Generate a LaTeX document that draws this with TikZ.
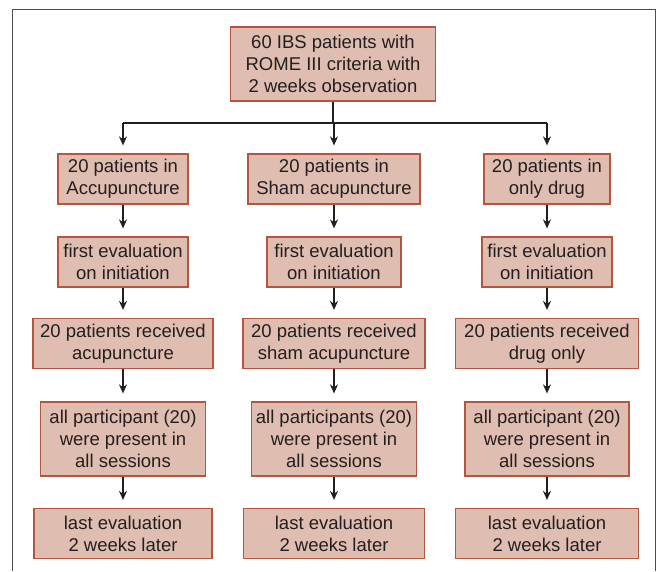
\documentclass[tikz,border=0pt]{standalone}
\usepackage{fontspec}
\setmainfont{Liberation Sans}
\usetikzlibrary{arrows.meta}

\definecolor{boxfill}{HTML}{DFBDB0}
\definecolor{boxline}{HTML}{B4563F}
\definecolor{ink}{HTML}{231F20}

\tikzset{
  stage/.style={draw=boxline, fill=boxfill, line width=1.2pt, align=center,
    inner xsep=4pt, inner ysep=4pt, text=ink, minimum height=50pt,
    font=\fontsize{18.5}{22}\selectfont},
  tall/.style={minimum height=74pt},
  wide/.style={minimum width=#1pt},
  link/.style={line width=1.6pt, draw=ink},
  flow/.style={link, -{Stealth[length=9pt,width=8pt]}, shorten >=8pt}
}

\begin{document}
\begin{tikzpicture}[x=1pt,y=-1pt]
  \useasboundingbox (0,0) rectangle (661,571);

  % Frame
  \draw[ink!80, line width=1pt] (12,571) -- (12,9) -- (655,9) -- (655,571);

  % Start
  \node[stage, tall, wide=205] (top) at (333,64) {60 IBS patients with\\ROME III criteria with\\2 weeks observation};

  % Accupuncture group
  \node[stage, wide=130] (a1) at (123,179) {20 patients in\\Accupuncture};
  \node[stage, wide=130] (a2) at (123,262) {first evaluation\\on initiation};
  \node[stage, wide=180] (a3) at (123,343.5) {20 patients received\\acupuncture};
  \node[stage, tall, wide=165] (a4) at (123,439) {all participant (20)\\were present in\\all sessions};
  \node[stage, wide=178] (a5) at (123,533.5) {last evaluation\\2 weeks later};

  % Sham group
  \node[stage, wide=172] (b1) at (334,179) {20 patients in\\Sham acupuncture};
  \node[stage, wide=134] (b2) at (334,262) {first evaluation\\on initiation};
  \node[stage, wide=182] (b3) at (334,343.5) {20 patients received\\sham acupuncture};
  \node[stage, tall, wide=165] (b4) at (334,439) {all participants (20)\\were present in\\all sessions};
  \node[stage, wide=181] (b5) at (334,533.5) {last evaluation\\2 weeks later};

  % Drug group
  \node[stage, wide=126] (c1) at (547,179) {20 patients in\\only drug};
  \node[stage, wide=130] (c2) at (547,262) {first evaluation\\on initiation};
  \node[stage, wide=183] (c3) at (547,343.5) {20 patients received\\drug only};
  \node[stage, tall, wide=164] (c4) at (547,439) {all participant (20)\\were present in\\all sessions};
  \node[stage, wide=183] (c5) at (547,533.5) {last evaluation\\2 weeks later};

  % Split into three arms
  \coordinate (split) at (333,123);
  \draw[link] (top) -- (split);
  \draw[link] (a1 |- split) -- (c1 |- split);
  \foreach \col in {a,b,c}
    \draw[flow] (\col1 |- split) -- (\col1.north);

  % Steps down each arm
  \foreach \col in {a,b,c}{
    \foreach \i/\j in {1/2,2/3,3/4,4/5}
      \draw[flow] (\col\i.south) -- (\col\i.south |- \col\j.north);
  }
\end{tikzpicture}
\end{document}
